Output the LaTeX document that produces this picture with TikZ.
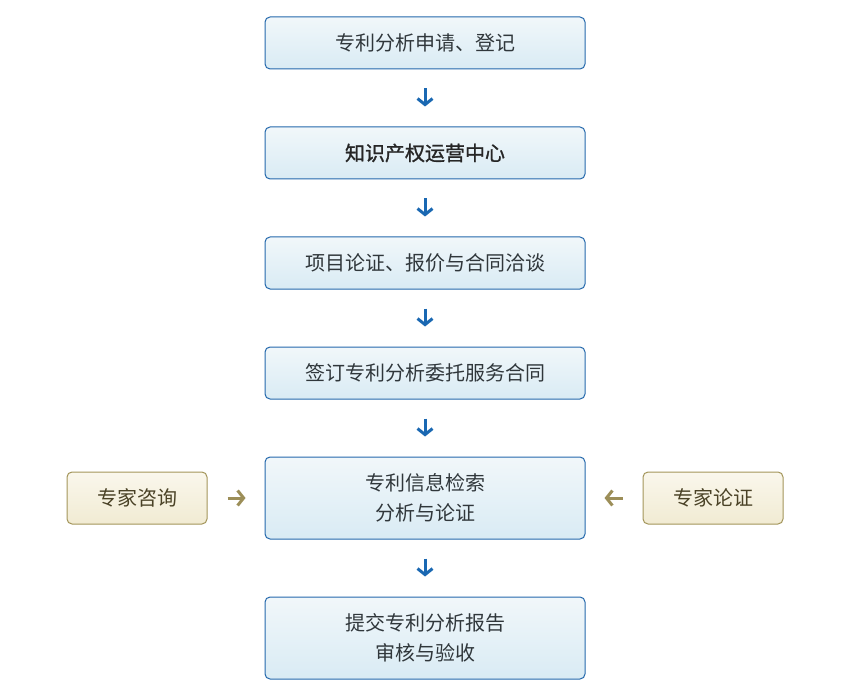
\documentclass[tikz,border=0pt]{standalone}
\usepackage{fontspec}
\setmainfont{Noto Sans CJK SC}
\newfontfamily\cjkmid[FakeBold=1.2]{Noto Sans CJK SC}
\usetikzlibrary{arrows.meta}
\definecolor{boxline}{HTML}{2468AC}
\definecolor{boxtop}{HTML}{F1F7FA}
\definecolor{boxbottom}{HTML}{D9EBF4}
\definecolor{boxtext}{HTML}{30373B}
\definecolor{sideline}{HTML}{A3955A}
\definecolor{sidetop}{HTML}{FAF7EC}
\definecolor{sidebottom}{HTML}{F1EBD3}
\definecolor{sidetext}{HTML}{4A4226}
\definecolor{flowblue}{HTML}{1A68B2}
\definecolor{flowgold}{HTML}{9C8E58}
\tikzset{
%Define standard arrow tip
>={Straight Barb[length=6pt,width=15pt]},
%Define styles for the boxes and arrows
main box/.style={draw=boxline, line width=1pt, rounded corners=5pt, top color=boxtop, bottom color=boxbottom, minimum width=320pt, minimum height=52pt, text=boxtext, font=\fontsize{20}{30}\selectfont, align=center},
tall box/.style={main box, minimum height=82pt},
side box/.style={draw=sideline, line width=1pt, rounded corners=5pt, top color=sidetop, bottom color=sidebottom, minimum width=140pt, minimum height=52pt, text=sidetext, font=\fontsize{20}{30}\selectfont},
flow/.style={->, line width=3pt, draw=flowblue, shorten <=19pt, shorten >=20pt},
side flow/.style={->, line width=3pt, draw=flowgold, shorten <=20pt, shorten >=19pt},
}
\begin{document}
\begin{tikzpicture}[x=1pt,y=1pt]
\useasboundingbox (0,0) rectangle (850,-700);
% Draw the main steps
\node[main box] (apply) at (425,-43) {专利分析申请、登记};
\node[main box, text=black!85, font=\fontsize{20}{30}\selectfont\cjkmid] (center) at (425,-153) {知识产权运营中心};
\node[main box] (quote) at (425,-263) {项目论证、报价与合同洽谈};
\node[main box] (contract) at (425,-373) {签订专利分析委托服务合同};
\node[tall box] (search) at (425,-498) {专利信息检索\\分析与论证};
\node[tall box] (report) at (425,-638) {提交专利分析报告\\审核与验收};
% Draw the expert boxes
\node[side box] (consult) at (137,-498) {专家咨询};
\node[side box] (review) at (713,-498) {专家论证};
% Draw the arrows
\draw[flow] (apply) -- (center);
\draw[flow] (center) -- (quote);
\draw[flow] (quote) -- (contract);
\draw[flow] (contract) -- (search);
\draw[flow] (search) -- (report);
\draw[side flow] (consult) -- (search);
\draw[side flow] (review) -- (search);
\end{tikzpicture}
\end{document}
